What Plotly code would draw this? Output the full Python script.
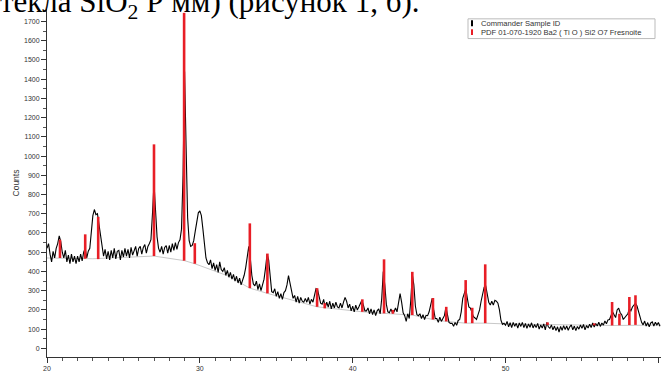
import plotly.graph_objects as go

# ---- data ----
scan_start = 20.0   # degrees 2-theta
scan_step = 0.1
counts = [
    520, 545, 490, 450, 505, 470, 520, 545, 585, 555,
    500, 470, 510, 450, 485, 440, 490, 450, 480, 440,
    480, 450, 490, 455, 500, 520, 470, 505, 520, 595,
    690, 722, 695, 700, 640, 575, 510, 480, 515, 465,
    505, 460, 510, 470, 520, 465, 505, 510, 460, 510,
    475, 520, 480, 515, 470, 525, 485, 510, 530, 480,
    520, 530, 490, 525, 540, 495, 530, 545, 565, 700,
    860, 720, 580, 520, 500, 530, 490, 525, 535, 495,
    535, 500, 545, 510, 550, 515, 550, 565, 620, 900,
    1440, 1050, 680, 560, 530, 535, 560, 610, 650, 705,
    715, 690, 620, 530, 470, 445, 435, 460, 415, 445,
    405, 435, 395, 450, 410, 400, 420, 380, 405, 370,
    395, 360, 385, 350, 375, 340, 365, 330, 355, 380,
    420, 480, 530, 470, 380, 335, 325, 350, 305, 335,
    300, 330, 360, 420, 490, 460, 360, 295, 290, 310,
    270, 295, 260, 285, 255, 290, 300, 330, 378, 335,
    285, 260, 275, 240, 270, 235, 265, 245, 240, 260,
    240, 265, 230, 255, 240, 270, 310, 305, 270, 235,
    230, 255, 210, 240, 215, 245, 205, 235, 210, 240,
    215, 210, 235, 210, 240, 265, 245, 210, 230, 195,
    220, 190, 225, 200, 215, 235, 250, 225, 195, 195,
    210, 180, 205, 175, 200, 170, 195, 205, 180, 260,
    400, 330, 230, 190, 185, 205, 185, 190, 210, 190,
    250, 285, 240, 185, 170, 140, 180, 155, 250, 385,
    330, 220, 175, 170, 180, 155, 175, 150, 172, 170,
    190, 230, 260, 200, 155, 155, 135, 162, 140, 155,
    170, 214, 175, 135, 130, 130, 115, 135, 120, 145,
    150, 190, 260, 290, 311, 260, 215, 209, 190, 165,
    158, 150, 175, 200, 245, 290, 318, 327, 285, 240,
    225, 245, 225, 250, 245, 235, 200, 145, 125, 130,
    120, 140, 112, 133, 108, 135, 115, 130, 105, 132,
    114, 135, 108, 130, 104, 127, 110, 133, 106, 124,
    108, 130, 100, 122, 106, 127, 96, 135, 112, 104,
    122, 96, 116, 92, 112, 85, 114, 94, 118, 98,
    116, 94, 112, 122, 96, 116, 92, 114, 100, 122,
    104, 124, 96, 119, 106, 126, 108, 132, 111, 129,
    116, 136, 114, 132, 121, 142, 128, 148, 150, 172,
    190, 175, 160, 200, 209, 185, 175, 150, 160, 165,
    180, 205, 195, 215, 225, 235, 220, 190, 150, 135,
    122, 142, 116, 134, 112, 132, 138, 116, 136, 122,
    134, 115,
]

background_x = [20.0, 23.0, 27.0, 29.0, 29.67, 31.8, 33.27, 34.42, 37.67, 40.63,
                42.05, 43.9, 45.25, 46.12, 47.39, 48.67, 50.0, 57.0, 60.2]
background_y = [470, 466, 480, 456, 440, 378, 313, 286, 216, 190,
                182, 173, 150, 140, 131, 131, 127, 119, 121]

stick_pos = [20.85, 22.5, 23.35, 27.0, 28.97, 29.67, 33.27, 34.42, 37.67, 38.17,
             40.63, 42.05, 42.63, 43.9, 45.25, 46.12, 47.39, 47.82, 48.67, 52.75,
             55.8, 56.97, 57.45, 58.1, 58.5]
stick_top = [565, 593, 684, 1061, 1745, 547, 650, 493, 313, 235,
             255, 463, 200, 398, 262, 216, 355, 211, 437, 135,
             130, 241, 180, 267, 276]
stick_base = [470, 466, 464, 480, 456, 440, 313, 286, 216, 208,
              190, 182, 180, 173, 150, 140, 131, 131, 131, 122,
              120, 119, 120, 121, 122]

x_ticks = [20, 30, 40, 50, 60]
y_ticks = list(range(0, 1800, 100))

legend_labels = ["Commander Sample ID",
                 "PDF 01-070-1920 Ba2 ( Ti O ) Si2 O7 Fresnoite"]
y_title = "Counts"
page_text = "текла SiO<sub>2</sub> Р мм) (рисунок 1, б)."

# ---- build figure ----
two_theta = [round(scan_start + i * scan_step, 2) for i in range(len(counts))]

sx, sy = [], []
for p, b, t in zip(stick_pos, stick_base, stick_top):
    sx += [p, p, None]
    sy += [b, t, None]

RED = "rgb(232,30,38)"
fig = go.Figure()
fig.add_trace(go.Scatter(x=background_x, y=background_y, mode="lines",
                         line=dict(color="rgb(200,200,200)", width=1),
                         hoverinfo="skip", showlegend=False))
fig.add_trace(go.Scatter(x=two_theta, y=counts, mode="lines",
                         line=dict(color="black", width=1.1),
                         name=legend_labels[0], showlegend=False))
fig.add_trace(go.Scatter(x=sx, y=sy, mode="lines",
                         line=dict(color=RED, width=2.6),
                         name=legend_labels[1], showlegend=False))

axis_font = dict(family="Liberation Sans, Arial", size=7, color="#333")
fig.update_layout(
    width=661, height=372,
    margin=dict(l=47, r=0, t=9, b=10),
    paper_bgcolor="white", plot_bgcolor="white",
    xaxis=dict(range=[20, 60.17], tickvals=x_ticks, ticks="outside", ticklen=5,
               tickwidth=1, tickcolor="#333", showline=True, linecolor="#333",
               linewidth=1, showgrid=False, zeroline=False, tickfont=axis_font,
               minor=dict(dtick=1, ticks="outside", ticklen=3, tickcolor="#555",
                          showgrid=False)),
    yaxis=dict(range=[-45, 1765], tickvals=y_ticks, ticks="outside", ticklen=5,
               tickwidth=1, tickcolor="#333", showline=True, linecolor="#333",
               linewidth=1, showgrid=False, zeroline=False, tickfont=axis_font,
               title=dict(text=y_title, font=dict(family="Liberation Sans, Arial",
                                                 size=8.5, color="#333"), standoff=3),
               minor=dict(dtick=50, ticks="outside", ticklen=3, tickcolor="#555",
                          showgrid=False)),
    showlegend=False,
)

# page text partially cut at top
fig.add_annotation(text=page_text, xref="paper", yref="paper", x=-47 / 614 - 0.003,
                   y=1, xanchor="left", yanchor="bottom", yshift=-17, showarrow=False,
                   font=dict(family="Liberation Serif, Times New Roman", size=31,
                             color="black"))

# custom legend box
fig.add_shape(type="rect", xref="paper", yref="paper",
              x0=(468 - 47) / 614, x1=(655 - 47) / 614,
              y0=1 - (39 - 9) / 353, y1=1 - (19 - 9) / 353,
              line=dict(color="#bbb", width=1), fillcolor="white")
for i, (lab, col) in enumerate(zip(legend_labels, ["black", RED])):
    yc = 23.5 + i * 9
    fig.add_shape(type="line", xref="paper", yref="paper",
                  x0=(472 - 47) / 614, x1=(472 - 47) / 614,
                  y0=1 - (yc + 3 - 9) / 353, y1=1 - (yc - 3 - 9) / 353,
                  line=dict(color=col, width=2))
    fig.add_annotation(text=lab, xref="paper", yref="paper",
                       x=(479 - 47) / 614, y=1 - (yc - 9) / 353,
                       xanchor="left", yanchor="middle", showarrow=False,
                       font=dict(family="Liberation Sans, Arial", size=7.6, color="#333"))

fig.write_html("out.html")
